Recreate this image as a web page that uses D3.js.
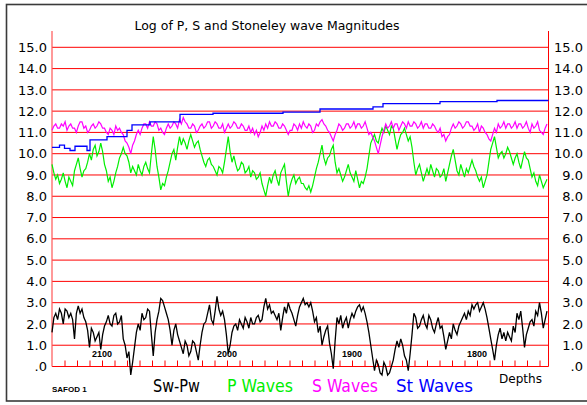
<!DOCTYPE html>
<html><head><meta charset="utf-8">
<script src="https://cdn.jsdelivr.net/npm/d3@7"></script>
<style>body{margin:0;background:#fff}svg{display:block}</style>
</head><body><svg id="c" width="587" height="405"></svg>
<script>
// ---- data ----
const depthStart = 2140, depthStep = 1.5; // sample grid (ft), decreasing to the right
const swpw = [
  1.6,2.3,2.5,2.2,2.7,2.5,2.0,2.7,2.6,2.3, 2.5,2.2,1.3,2.5,2.85,2.5,2.7,2.3,2.1,1.7,
  0.9,1.8,1.6,1.2,1.4,1.6,0.8,1.5,1.9,2.1, 2.4,2.0,1.9,2.4,2.5,2.0,2.1,2.4,1.3,1.0,
  0.4,0.7,-0.4,0.2,0.9,1.6,2.0,1.7,2.5,2.2, 2.3,2.7,2.6,1.5,0.5,1.6,2.2,2.6,3.2,3.1,
  2.8,2.5,2.2,1.7,1.0,1.7,2.0,1.5,1.2,0.9, 0.6,1.2,1.0,0.5,0.7,1.2,1.1,0.7,0.3,1.0,
  1.6,2.0,2.1,2.5,2.9,2.2,2.0,2.6,3.3,2.7, 2.4,2.6,2.2,1.5,0.6,1.0,1.6,1.9,2.0,1.7,
  2.2,2.0,1.8,2.3,2.1,1.8,2.3,2.0,2.0,2.3, 2.4,2.1,2.2,2.8,3.2,2.7,2.9,2.5,2.6,2.4,
  2.2,2.5,1.7,2.3,2.8,2.5,3.0,2.7,
  2.5,2.2,1.9,2.4,2.8,3.0,3.2,2.9,3.0,2.8, 3.0,2.6,2.1,2.3,1.6,1.9,1.0,1.4,1.7,1.9,
  1.1,0.6,-0.1,1.2,2.3,2.0,2.4,1.8,2.1,2.3, 1.8,2.2,2.5,2.3,2.6,2.8,2.9,2.6,2.8,2.5,
  2.1,1.6,1.0,0.4,-0.2,0.3,0.1,-0.3,-0.4,0.2, 0.0,-0.4,-0.3,0.0,0.3,0.8,1.2,0.9,1.3,1.0,
  0.5,0.3,-0.2,0.6,1.5,2.5,2.3,1.8,1.9,2.2, 2.4,2.0,1.8,2.4,2.2,1.8,1.6,2.0,2.3,1.8,
  1.9,1.4,0.8,1.2,1.6,1.3,2.0,1.7,1.5,1.9, 2.1,2.3,2.5,2.2,2.6,2.4,2.9,2.7,2.9,3.0,
  2.6,2.8,3.0,2.7,2.3,1.8,1.3,0.8,0.3,1.0, 1.5,1.8,1.3,1.6,1.2,1.6,1.4,1.2,1.9,1.6,
  2.5,2.2,2.6,1.8,0.9,1.5,1.8,2.1,2.2,1.9, 2.6,2.4,3.0,2.5,1.8,2.2,2.6];
const pWaves = [
  9.5,9.1,8.8,9.0,8.6,8.8,9.1,8.7,8.4,8.9, 8.7,8.5,9.2,9.5,9.8,9.3,8.9,9.2,9.3,9.6,
  10.0,9.7,10.2,10.4,9.9,10.1,10.5,10.1,9.5,9.2, 8.7,8.9,8.4,8.7,9.1,9.4,9.8,10.0,10.3,10.0,
  9.9,9.6,9.1,9.4,9.2,9.0,9.5,9.2,9.0,9.4, 9.6,9.3,9.1,10.0,10.8,10.2,9.4,8.9,8.3,8.6,
  8.5,8.9,9.2,9.6,10.0,10.2,9.7,10.3,10.8,10.4, 10.7,10.5,10.2,10.6,10.9,10.6,10.3,10.5,10.6,10.2,
  9.9,9.6,9.4,9.7,9.8,9.5,9.4,9.2,9.0,9.4, 9.3,9.1,9.6,10.2,10.8,10.1,9.6,9.9,9.5,9.2,
  9.3,9.6,9.5,9.1,9.2,9.4,8.9,9.2,9.1,8.8, 8.9,9.1,8.6,8.3,8.0,8.5,8.9,8.6,9.0,9.2,
  8.8,8.5,9.1,9.3,9.5,8.7,8.0,8.5,
  8.8,9.0,8.6,8.8,8.9,8.6,8.6,8.4,8.3,8.5, 8.2,8.5,8.9,9.3,9.6,10.0,10.4,9.8,9.5,9.8,
  9.9,10.2,10.4,9.6,9.1,9.3,9.0,8.7,8.9,9.2, 9.5,9.1,8.9,8.7,9.2,8.8,8.4,8.7,8.6,8.9,
  9.3,9.9,10.5,10.7,10.9,10.6,10.5,10.9,11.2,11.0, 11.3,11.1,10.9,11.3,11.2,10.7,10.2,10.6,10.9,11.0,
  11.2,10.9,10.6,10.8,10.3,9.6,9.0,9.3,9.5,9.1, 8.7,9.0,9.3,9.0,9.5,9.2,8.9,9.3,9.2,8.9,
  9.0,9.3,8.7,9.1,9.5,9.9,10.2,9.7,9.2,9.0, 9.5,9.2,8.9,9.3,9.1,9.4,9.7,9.4,9.2,8.9,
  8.7,8.9,8.4,8.7,9.0,9.6,10.2,10.5,10.8,10.3, 9.8,10.0,10.1,9.8,10.0,10.3,10.1,9.8,9.5,9.8,
  10.0,9.6,9.3,9.7,10.1,9.8,9.7,9.3,8.9,9.1, 8.7,8.5,9.0,8.7,8.4,8.6,8.8];
const sWaves = [
  11.1,11.3,11.4,11.2,11.2,11.4,11.3,11.5,11.1,11.3, 11.4,11.2,11.2,11.0,11.3,11.5,11.5,11.2,11.3,11.0,
  11.1,11.3,11.4,11.2,11.3,11.5,11.4,11.2,11.2,11.0, 10.9,11.2,11.1,10.9,11.3,11.1,11.2,11.0,10.9,10.6,
  10.5,10.3,10.0,10.4,10.6,10.9,11.1,10.9,11.2,11.4, 11.4,11.2,11.5,11.3,11.3,11.5,11.4,11.1,11.2,11.0,
  10.9,11.2,11.4,11.2,11.3,11.5,11.4,11.2,11.6,11.4, 11.7,11.5,11.4,11.2,11.2,11.4,11.3,11.0,11.1,11.3,
  11.4,11.2,11.3,11.5,11.5,11.2,11.3,11.5,11.4,11.2, 11.2,11.4,11.0,11.2,11.4,11.2,11.3,11.5,11.4,11.2,
  11.2,11.4,11.3,11.1,11.1,11.3,11.0,11.2,10.9,11.1, 10.8,11.0,11.3,11.1,11.4,11.2,11.5,11.3,11.3,11.5,
  11.4,11.2,11.2,11.4,11.3,11.1,10.9,11.1,
  11.1,11.4,11.3,11.1,11.4,11.2,11.5,11.3,11.2,11.4, 11.3,11.0,11.1,11.4,11.3,11.5,11.6,11.4,11.3,11.1,
  11.0,10.8,10.6,10.9,11.1,11.4,11.3,11.1,11.2,11.4, 11.4,11.2,11.3,11.5,11.2,11.4,11.4,11.2,11.3,11.5,
  11.2,10.9,11.0,10.8,10.6,10.3,10.0,10.4,10.8,11.1, 11.4,11.2,11.3,11.5,11.2,11.4,11.4,11.1,11.3,11.5,
  11.4,11.2,11.5,11.3,11.3,11.5,11.4,11.2,11.3,11.5, 11.2,11.4,11.4,11.2,11.2,11.4,11.3,11.1,11.0,11.2,
  10.8,10.9,10.6,10.8,10.9,11.2,11.4,11.2,11.3,11.5, 11.4,11.2,11.3,11.5,11.5,11.3,11.3,11.1,11.2,11.4,
  11.0,11.3,11.2,11.0,10.9,10.7,10.6,10.9,11.2,11.0, 11.4,11.2,11.3,11.5,11.2,11.4,11.4,11.2,11.3,11.5,
  11.2,11.4,11.4,11.2,11.3,11.5,11.2,11.0,11.4,11.2, 11.3,11.5,11.1,11.0,10.9,11.2,11.4];
const stDepths = [2140,2134,2130,2125.6,2121.6,2112,2109.6,2096,2080,2076,2061.6,2037.6,2011.2,1955.2,1925.6,1883.2,1875.2,1829.6,1784,1742.8];
const stValues = [10.3,10.4,10.25,10.15,10.35,10.15,10.65,10.8,11.1,11.35,11.5,11.85,11.9,11.95,12.1,12.2,12.35,12.45,12.5,12.5];
const yTickValues = [0,1,2,3,4,5,6,7,8,9,10,11,12,13,14,15];
const yTickLabels = [".0","1.0","2.0","3.0","4.0","5.0","6.0","7.0","8.0","9.0","10.0","11.0","12.0","13.0","14.0","15.0"];
const depthTicks = d3.range(2130, 1745, -10);
const depthLabels = [2100, 2000, 1900, 1800];
const legend = [
  {t:"Sw-Pw", c:"#000000", x:153, w:47},
  {t:"P Waves", c:"#00ee00", x:227, w:66},
  {t:"S Waves", c:"#ff00ff", x:312, w:66},
  {t:"St Waves", c:"#0000ff", x:396, w:77}
];

// ---- chart ----
const svg = d3.select("#c");
const x = d3.scaleLinear().domain([2140, 1742.8]).range([52, 548.5]);
const y = d3.scaleLinear().domain([0, 15]).range([366.5, 47.3]);
const depthAt = i => depthStart - i * depthStep;
const RED = "#ff0000";

svg.append("rect").attr("x", 6.5).attr("y", 4.5).attr("width", 590).attr("height", 396.5)
  .attr("fill", "none").attr("stroke", "#3a3a3a").attr("stroke-width", 1.6);

svg.append("text").attr("x", 267).attr("y", 30).attr("text-anchor", "middle")
  .attr("font-family", "DejaVu Sans").attr("font-size", 12).attr("textLength", 265)
  .attr("lengthAdjust", "spacingAndGlyphs").attr("fill", "#000")
  .text("Log of P, S and Stoneley wave Magnitudes");

// gridlines
svg.append("g").selectAll("line").data(yTickValues).join("line")
  .attr("x1", 52).attr("x2", 548.5).attr("y1", d => y(d)).attr("y2", d => y(d))
  .attr("stroke", RED).attr("stroke-width", 1);

// vertical axis lines
svg.append("line").attr("x1", 52).attr("x2", 52).attr("y1", 31).attr("y2", y(0))
  .attr("stroke", "#ff5555").attr("stroke-width", 1.2);
svg.append("line").attr("x1", 548.5).attr("x2", 548.5).attr("y1", 31).attr("y2", y(0))
  .attr("stroke", RED).attr("stroke-width", 1);

// y labels left and right
const yl = d3.axisLeft(y).tickValues(yTickValues).tickFormat(d => yTickLabels[d]).tickSize(0).tickPadding(0);
const gL = svg.append("g").attr("transform", "translate(47,0)").call(yl);
const gR = svg.append("g").attr("transform", "translate(583,0)").call(yl);
[gL, gR].forEach(g => {
  g.select(".domain").remove();
  g.selectAll("text").attr("font-family", "DejaVu Sans").attr("font-size", 13).attr("fill", "#000");
});

// x ticks
const xa = d3.axisBottom(x).tickValues(depthTicks).tickSize(-6).tickFormat("");
const gx = svg.append("g").attr("transform", `translate(0,${y(0)})`).call(xa);
gx.select(".domain").remove();
gx.selectAll("line").attr("stroke", RED);
svg.append("g").selectAll("text").data(depthLabels).join("text")
  .attr("x", d => x(d)).attr("y", 357).attr("text-anchor", "middle")
  .attr("font-family", "Liberation Sans").attr("font-weight", "bold").attr("font-size", 9)
  .text(d => d);

// series
const line = d3.line().x((d, i) => x(depthAt(i))).y(d => y(d));
svg.append("path").attr("d", line(pWaves)).attr("fill", "none").attr("stroke", "#00ee00").attr("stroke-width", 1.2);
svg.append("path").attr("d", line(sWaves)).attr("fill", "none").attr("stroke", "#ff00ff").attr("stroke-width", 1.2);
const stLine = d3.line().x((d, i) => x(stDepths[i])).y(d => y(d)).curve(d3.curveStepAfter);
svg.append("path").attr("d", stLine(stValues)).attr("fill", "none").attr("stroke", "#0000ff").attr("stroke-width", 1.3);
svg.append("path").attr("d", line(swpw)).attr("fill", "none").attr("stroke", "#000").attr("stroke-width", 1.3);

// footer texts
svg.append("text").attr("x", 52).attr("y", 392).attr("font-family", "Liberation Sans")
  .attr("font-weight", "bold").attr("font-size", 8).text("SAFOD 1");
svg.append("g").selectAll("text").data(legend).join("text")
  .attr("x", d => d.x).attr("y", 392).attr("fill", d => d.c)
  .attr("font-family", "DejaVu Sans").attr("font-size", 18)
  .attr("textLength", d => d.w).attr("lengthAdjust", "spacingAndGlyphs").text(d => d.t);
svg.append("text").attr("x", 499).attr("y", 383).attr("font-family", "DejaVu Sans")
  .attr("font-size", 13).attr("textLength", 43).attr("lengthAdjust", "spacingAndGlyphs").text("Depths");
</script></body></html>
